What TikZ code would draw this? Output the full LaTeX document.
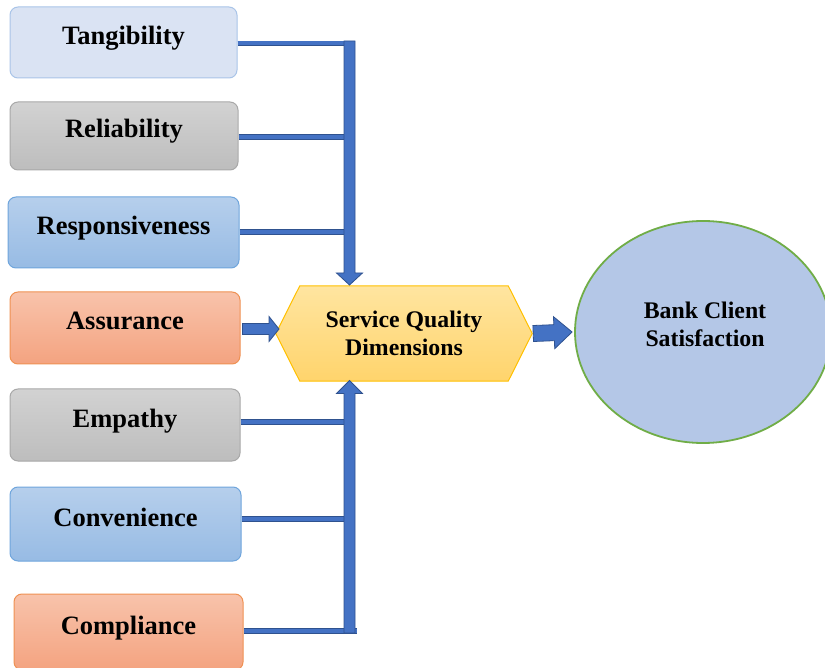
\documentclass[tikz,border=0pt]{standalone}
\usepackage{fontspec}
\setmainfont{Liberation Serif}
\usetikzlibrary{shapes.geometric,calc,backgrounds}

\definecolor{tanFill}{HTML}{DAE3F3}
\definecolor{tanEdge}{HTML}{A9C4E8}
\definecolor{grayTop}{HTML}{D2D2D2}
\definecolor{grayBot}{HTML}{BDBDBD}
\definecolor{grayEdge}{HTML}{A8A8A8}
\definecolor{blueTop}{HTML}{B6CFEC}
\definecolor{blueBot}{HTML}{97BBE4}
\definecolor{blueEdge}{HTML}{6FA5DC}
\definecolor{orTop}{HTML}{F8C3AB}
\definecolor{orBot}{HTML}{F4A380}
\definecolor{orEdge}{HTML}{EF9153}
\definecolor{hexTop}{HTML}{FFE5A0}
\definecolor{hexBot}{HTML}{FFD46C}
\definecolor{hexEdge}{HTML}{FFC000}
\definecolor{ellFill}{HTML}{B4C7E7}
\definecolor{ellEdge}{HTML}{70AD47}
\definecolor{barFill}{HTML}{4472C4}
\definecolor{barEdge}{HTML}{2F528F}

% block arrow: tail, tip, half shaft width, half head width, head length
\newcommand{\blockarrow}[5]{%
  \path ($(#2)!#5!(#1)$) coordinate (ba-base);
  \draw[arrowbody]
    ($(#1)!#3!90:(#2)$) -- ($(ba-base)!#3!90:(#2)$) -- ($(ba-base)!#4!90:(#2)$)
    -- (#2)
    -- ($(ba-base)!#4!-90:(#2)$) -- ($(ba-base)!#3!-90:(#2)$) -- ($(#1)!#3!-90:(#2)$)
    -- cycle;}

\tikzset{
  factor/.style={rounded corners=8pt, line width=1pt, inner sep=0pt,
    font=\fontsize{26.5}{31}\selectfont\bfseries, text height=12pt, text depth=8pt},
  lightblue/.style={factor, draw=tanEdge, fill=tanFill},
  grayish/.style={factor, draw=grayEdge, top color=grayTop, bottom color=grayBot},
  bluish/.style={factor, draw=blueEdge, top color=blueTop, bottom color=blueBot},
  orangish/.style={factor, draw=orEdge, top color=orTop, bottom color=orBot},
  bigtext/.style={font=\fontsize{23.8}{28}\selectfont\bfseries, align=center, inner sep=0pt},
  bar/.style={draw=barEdge, line width=0.8pt, double=barFill, double distance=4pt},
  arrowbody/.style={draw=barEdge, line width=0.8pt, fill=barFill, line join=miter},
}

\begin{document}
\begin{tikzpicture}[x=1pt, y=-1pt]
\useasboundingbox (0,0) rectangle (825,668);
\clip (0,0) rectangle (825,668);

% left column of factors
\node[lightblue, minimum width=227pt, minimum height=71pt] (tan) at (123.5,42.5) {Tangibility};
\node[grayish,   minimum width=228pt, minimum height=68pt] (rel) at (124,136) {Reliability};
\node[bluish,    minimum width=231pt, minimum height=71pt] (res) at (123.5,232.5) {Responsiveness};
\node[orangish,  minimum width=230pt, minimum height=72pt] (ass) at (125,328) {Assurance};
\node[grayish,   minimum width=230pt, minimum height=72pt] (emp) at (125,425) {Empathy};
\node[bluish,    minimum width=231pt, minimum height=74pt] (con) at (125.5,524) {Convenience};
\node[orangish,  minimum width=229pt, minimum height=76pt] (com) at (128.5,632) {Compliance};

% central hexagon
\node[bigtext, minimum width=256pt, minimum height=95pt] (sqd) at (404,333.5) {Service Quality\\Dimensions};
\begin{scope}[on background layer]
  \draw[line width=1pt, draw=hexEdge, top color=hexTop, bottom color=hexBot]
    (sqd.west) -- ([xshift=24pt]sqd.north west) -- ([xshift=-24pt]sqd.north east)
    -- (sqd.east) -- ([xshift=-24pt]sqd.south east) -- ([xshift=24pt]sqd.south west) -- cycle;
\end{scope}

% outcome
\node[ellipse, draw=ellEdge, line width=1.8pt, fill=ellFill,
      minimum width=256pt, minimum height=222pt, inner sep=0pt] (bcs) at (703,332) {};
\node[bigtext] (bcsText) at (705,324) {Bank Client\\Satisfaction};

% bus lines
\coordinate (topbus) at (349.5,41);
\coordinate (botbus) at (349.5,633);
\coordinate (topTip) at (349.5,285);
\coordinate (botTip) at (349.5,380.5);

\draw[bar] ([yshift=-1pt]tan.east) -- ([yshift=-1pt]tan.east -| topbus);
\draw[bar] ([yshift=-1pt]rel.east) -- ([yshift=-1pt]rel.east -| topbus);
\draw[bar] ([yshift=0.5pt]res.east) -- ([yshift=0.5pt]res.east -| topbus);
\draw[bar] ([yshift=3pt]emp.east) -- ([yshift=3pt]emp.east -| botbus);
\draw[bar] ([yshift=5pt]con.east) -- ([yshift=5pt]con.east -| botbus);
\draw[bar] ([yshift=1pt]com.east) -- ([xshift=7.5pt,yshift=1pt]com.east -| botbus);

\blockarrow{topbus}{topTip}{5.5pt}{13pt}{12pt}
\blockarrow{botbus}{botTip}{5.5pt}{13pt}{13pt}

% assurance arrow and output arrow
\coordinate (assTail) at ([xshift=2pt,yshift=-1pt]ass.east);
\coordinate (assTip) at (279,329);
\blockarrow{assTail}{assTip}{5.5pt}{12.5pt}{10pt}
\coordinate (outTail) at ([xshift=1pt]sqd.east);
\coordinate (outTip) at ([xshift=-2pt]bcs.west);
\blockarrow{outTail}{outTip}{8pt}{16pt}{18pt}
\end{tikzpicture}
\end{document}
